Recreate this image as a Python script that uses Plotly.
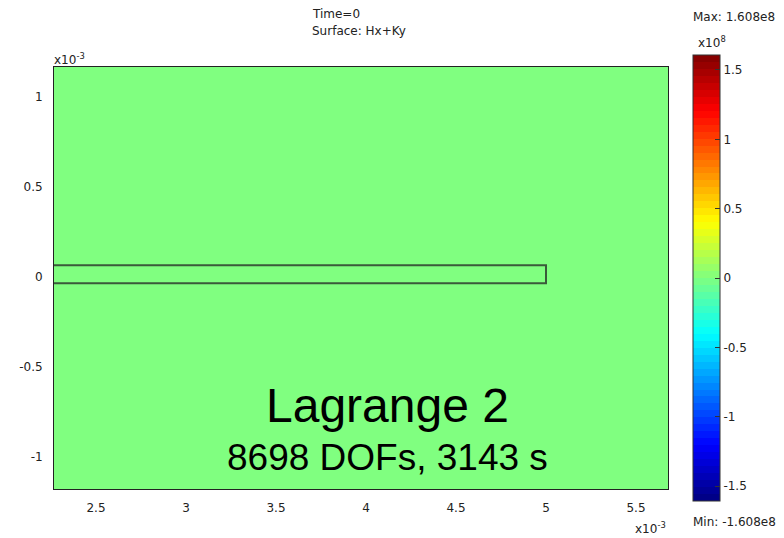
import numpy as np
import plotly.graph_objects as go

# Field values (units of 1e8): the surface Hx+Ky is zero at Time=0
field_x = [0.0, 6.0e-3]          # domain extent, m
field_y = [-1.5e-3, 1.5e-3]
field_z = [[0.0]]

# Embedded strip (m)
strip_x = [0.0, 5.0e-3]
strip_y = [-0.035e-3, 0.065e-3]

z_min, z_max = -1.608, 1.608     # x10^8

x_ticks = [2.5e-3, 3.0e-3, 3.5e-3, 4.0e-3, 4.5e-3, 5.0e-3, 5.5e-3]
x_tick_text = ["2.5", "3", "3.5", "4", "4.5", "5", "5.5"]
y_ticks = [1.0e-3, 0.5e-3, 0.0, -0.5e-3, -1.0e-3]
y_tick_text = ["1", "0.5", "0", "-0.5", "-1"]
cb_ticks = [1.5, 1.0, 0.5, 0.0, -0.5, -1.0, -1.5]
cb_tick_text = ["1.5", "1", "0.5", "0", "-0.5", "-1", "-1.5"]

x_range = [2.2667e-3, 5.6778e-3]
y_range = [-1.1778e-3, 1.1667e-3]


def jet(t):
    r = np.clip(1.5 - abs(4 * t - 3), 0, 1)
    g = np.clip(1.5 - abs(4 * t - 2), 0, 1)
    b = np.clip(1.5 - abs(4 * t - 1), 0, 1)
    return "rgb(%d,%d,%d)" % (round(r * 255), round(g * 255), round(b * 255))


# 64-level banded jet for the colour legend
n_levels = 64
banded = []
for i in range(n_levels):
    c = jet((i + 0.5) / n_levels)
    banded.append([i / n_levels, c])
    banded.append([(i + 1) / n_levels, c])

smooth = [[k / 32, jet(k / 32)] for k in range(33)]

font = "DejaVu Sans"
txt = "#222222"
fs = 12

fig = go.Figure()

fig.add_trace(go.Heatmap(
    x=field_x, y=field_y, z=field_z,
    zmin=z_min, zmax=z_max, colorscale=smooth,
    showscale=False, hoverinfo="skip",
))

# Colour legend
fig.add_trace(go.Scatter(
    x=[None, None], y=[None, None], mode="markers",
    marker=dict(
        color=[z_min, z_max], cmin=z_min, cmax=z_max,
        colorscale=banded, showscale=True,
        colorbar=dict(
            x=1.0407, xanchor="left", xpad=0,
            y=0.5, yanchor="middle", ypad=0,
            lenmode="pixels", len=446,
            thickness=27, outlinewidth=1, outlinecolor="#333333",
            tickvals=cb_ticks, ticktext=cb_tick_text,
            ticks="inside", ticklen=5, tickcolor="#333333",
            tickfont=dict(family=font, size=fs, color=txt),
        ),
    ),
    showlegend=False, hoverinfo="skip",
))

fig.add_shape(
    type="rect", xref="x", yref="y",
    x0=strip_x[0], x1=strip_x[1], y0=strip_y[0], y1=strip_y[1],
    line=dict(color="#3a5a3a", width=2),
)

annotations = [
    dict(text="Time=0", x=310, y=14),
    dict(text="Surface: Hx+Ky", x=310, y=31),
    dict(text="Max: 1.608e8", x=691, y=17),
    dict(text="Min: -1.608e8", x=691, y=522),
    dict(text="x10<sup>8</sup>", x=696, y=42),
    dict(text="x10<sup>-3</sup>", x=52, y=59),
    dict(text="x10<sup>-3</sup>", x=633, y=528),
]
W, H = 784, 538
L, R, T, B = 54, 116, 67, 49
pw, ph = W - L - R, H - T - B
for a in annotations:
    fig.add_annotation(
        text=a["text"], xref="paper", yref="paper",
        x=(a["x"] - L) / pw, y=(H - B - a["y"]) / ph,
        xanchor="left", yanchor="middle", showarrow=False,
        font=dict(family=font, size=fs, color=txt),
    )

fig.add_annotation(
    text="Lagrange 2", xref="paper", yref="paper",
    x=(387 - L) / pw, y=(H - B - 405) / ph, xanchor="center", yanchor="middle",
    showarrow=False, font=dict(family="Liberation Sans", size=48, color="black"),
)
fig.add_annotation(
    text="8698 DOFs, 3143 s", xref="paper", yref="paper",
    x=(387 - L) / pw, y=(H - B - 457) / ph, xanchor="center", yanchor="middle",
    showarrow=False, font=dict(family="Liberation Sans", size=37, color="black"),
)

axis_common = dict(
    showgrid=False, zeroline=False,
    showline=True, mirror=True, linecolor="#222222", linewidth=1,
    ticks="outside", ticklen=8, tickcolor="rgba(0,0,0,0)",
    tickfont=dict(family=font, size=fs, color=txt),
)

fig.update_layout(
    width=W, height=H,
    margin=dict(l=L, r=R, t=T, b=B),
    paper_bgcolor="white", plot_bgcolor="white",
    xaxis=dict(range=x_range, tickvals=x_ticks, ticktext=x_tick_text, **axis_common),
    yaxis=dict(range=y_range, tickvals=y_ticks, ticktext=y_tick_text, **axis_common),
)

fig.write_html("out.html")
